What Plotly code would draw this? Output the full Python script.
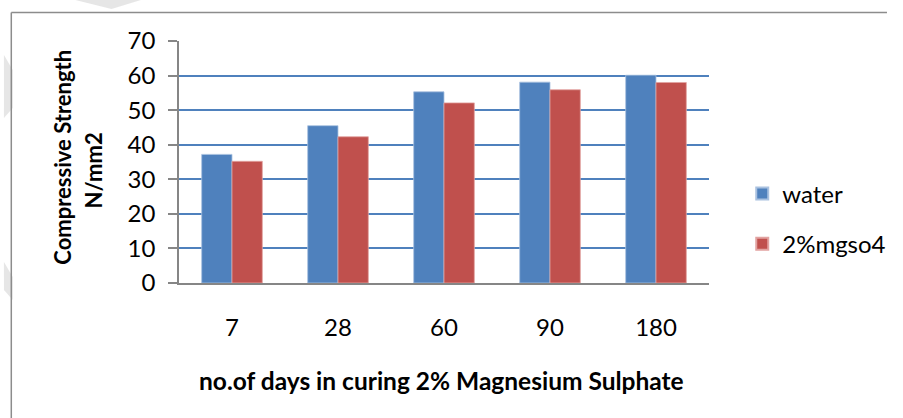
import plotly.graph_objects as go

categories = ["7", "28", "60", "90", "180"]
water = [37.2, 45.5, 55.3, 58.1, 60.1]
mgso4 = [35.2, 42.3, 52.1, 55.9, 58.0]
series_names = ["water", "2%mgso4"]
y_ticks = [0, 10, 20, 30, 40, 50, 60, 70]
x_title = "no.of days in curing 2% Magnesium Sulphate"
y_title_lines = ["Compressive Strength", "N/mm2"]

W, H = 903, 418
L, R, T, B = 179, 721, 41, 283
pw, ph = R - L, B - T

def px(x):
    return (x - L) / pw

def py(y):
    return (B - y) / ph

FONT = "Lato, Carlito, 'Liberation Sans', sans-serif"

fig = go.Figure()
fig.add_trace(go.Bar(x=categories, y=water, name=series_names[0], legendgroup="a",
                     marker=dict(color="#4f81bd", line=dict(color="#a9c1e0", width=0.8))))
fig.add_trace(go.Bar(x=categories, y=mgso4, name=series_names[1], legendgroup="b",
                     marker=dict(color="#c0504d", line=dict(color="#e2a3a1", width=0.8))))

shapes = []
# faint watermark shapes
wm = "rgba(200,200,200,0.45)"
for pts in [
    [(73, 0), (140, 0), (110, 9)],
    [(0, 55), (9, 70), (9, 108), (0, 118)],
    [(0, 262), (9, 277), (9, 300), (0, 290)],
]:
    path = "M " + " L ".join(f"{px(a)},{py(b)}" for a, b in pts) + " Z"
    shapes.append(dict(type="path", xref="paper", yref="paper", path=path,
                       fillcolor=wm, line=dict(width=0), layer="below"))
# outer frame (left + top)
shapes.append(dict(type="line", xref="paper", yref="paper", x0=px(7.5), x1=px(903),
                   y0=py(12.5), y1=py(12.5), line=dict(color="#8c8c8c", width=1.5)))
shapes.append(dict(type="line", xref="paper", yref="paper", x0=px(7.5), x1=px(7.5),
                   y0=py(12.5), y1=py(418), line=dict(color="#8c8c8c", width=1.5)))

annotations = [
    dict(text=f"<b>{x_title}</b>", xref="paper", yref="paper", x=px(447.5), y=py(380),
         xanchor="center", yanchor="middle", showarrow=False,
         font=dict(family=FONT, size=24.5, color="black")),
    dict(text=f"<b>{y_title_lines[0]}</b>", xref="paper", yref="paper", x=px(59), y=py(157),
         xanchor="center", yanchor="middle", showarrow=False, textangle=-90,
         font=dict(family=FONT, size=22, color="black")),
    dict(text=f"<b>{y_title_lines[1]}</b>", xref="paper", yref="paper", x=px(91.5), y=py(170),
         xanchor="center", yanchor="middle", showarrow=False, textangle=-90,
         font=dict(family=FONT, size=22, color="black")),
]

fig.update_layout(
    width=W, height=H,
    margin=dict(l=L, r=W - R, t=T, b=H - B, pad=0),
    paper_bgcolor="white", plot_bgcolor="white",
    barmode="group", bargap=0.428, bargroupgap=0,
    font=dict(family=FONT, size=24, color="black"),
    showlegend=True,
    legend=dict(x=px(755), y=py(219), xanchor="left", yanchor="middle",
                font=dict(family=FONT, size=24, color="black"),
                tracegroupgap=16, itemsizing="constant", bgcolor="rgba(0,0,0,0)"),
    shapes=shapes,
    annotations=annotations,
)
fig.update_xaxes(type="category", showgrid=False, showline=True, linecolor="#868686",
                 linewidth=1.5, ticks="", ticklabelstandoff=22,
                 tickfont=dict(family=FONT, size=24, color="black"))
fig.update_yaxes(range=[0, 70], tickvals=y_ticks, showgrid=True, gridcolor="#4f81bd",
                 gridwidth=1.6, showline=True, linecolor="#868686", linewidth=1.5,
                 ticks="outside", ticklen=9, tickcolor="#868686", tickwidth=1.5,
                 ticklabelstandoff=8, zeroline=False,
                 tickfont=dict(family=FONT, size=24, color="black"))

fig.write_html("out.html", config={"displayModeBar": False},
               post_script="document.body.style.margin='0px';")
